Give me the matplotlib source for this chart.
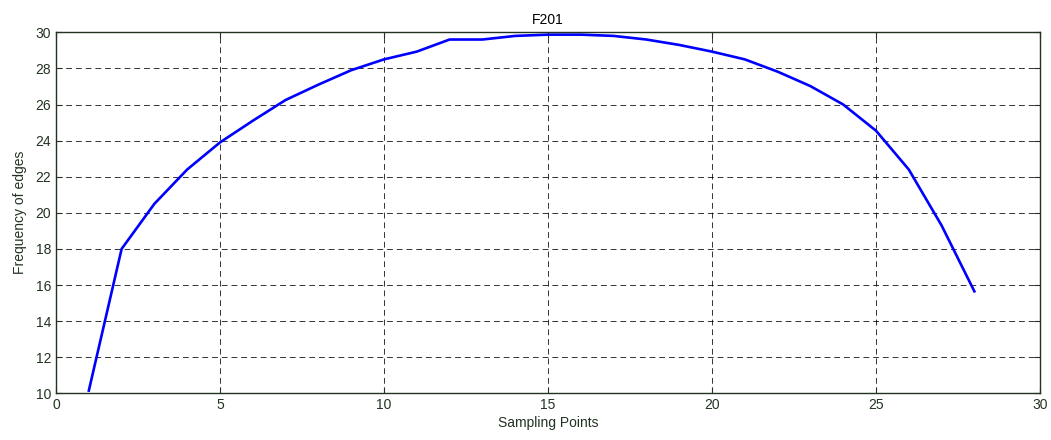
import matplotlib
matplotlib.use("Agg")
from matplotlib import pyplot as plt

# sampling points and edge frequencies
points = list(range(1, 29))
freq = [10.15, 18.0, 20.5, 22.4, 23.9, 25.1, 26.25, 27.1, 27.9, 28.5,
        28.93, 29.6, 29.6, 29.8, 29.87, 29.87, 29.8, 29.6, 29.3, 28.93,
        28.5, 27.82, 27.02, 26.0, 24.55, 22.4, 19.3, 15.65]

plt.rcParams['font.family'] = ['Liberation Sans', 'DejaVu Sans']
fig = plt.figure(figsize=(10.51, 4.40), dpi=100)
ax = fig.add_axes([0.0533, 0.1061, 0.9362, 0.8205])

ax.plot(points, freq, color='#0000ff', linewidth=1.9)

ax.set_xlim(0, 30)
ax.set_ylim(10, 30)
ax.set_xticks(range(0, 31, 5))
ax.set_yticks(range(10, 31, 2))
ax.grid(True, color='black', linestyle=(0, (6, 4)), linewidth=0.7, alpha=0.8)
ax.tick_params(direction='in', top=True, right=True, labelsize=10,
               colors='#223322', length=4)
for s in ax.spines.values():
    s.set_color('#223322')
    s.set_linewidth(1.0)

ax.set_title('F201', fontsize=10, pad=6)
ax.set_xlabel('Sampling Points', fontsize=10, color='#223322', labelpad=3)
ax.set_ylabel('Frequency of edges', fontsize=10, color='#223322', labelpad=6)

fig.savefig('out.png', dpi=100)
